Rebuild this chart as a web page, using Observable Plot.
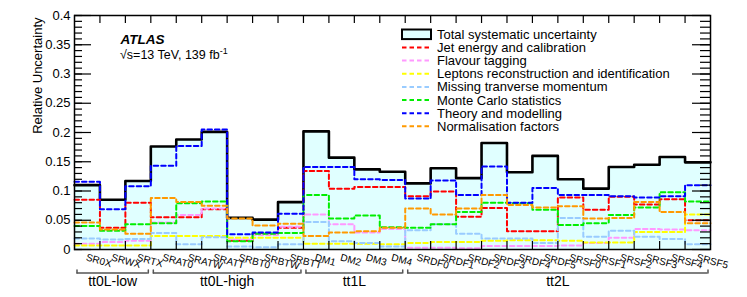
<!DOCTYPE html>
<html><head><meta charset="utf-8">
<script src="https://cdn.jsdelivr.net/npm/d3@7"></script>
<script src="https://cdn.jsdelivr.net/npm/@observablehq/plot@0.6"></script>
<style>
body{margin:0;background:#fff;}
#chart svg{font-family:"Liberation Sans",Arial,Helvetica,sans-serif;}
</style>
</head><body><div id="chart"></div>
<script>
// ---- data ----
const regions = ["SR0X","SRWX","SRTX","SRAT0","SRATW","SRATT","SRBT0","SRBTW","SRBTT","DM1","DM2","DM3","DM4","SRDF0","SRDF1","SRDF2","SRDF3","SRDF4","SRDF5","SRSF0","SRSF1","SRSF2","SRSF3","SRSF4","SRSF5"];
const groupNames = ["tt0L-low","tt0L-high","tt1L","tt2L"];
const groupSizes = [3,6,4,12];
const total    = [0.110,0.085,0.117,0.176,0.188,0.201,0.054,0.051,0.081,0.202,0.157,0.137,0.133,0.113,0.139,0.122,0.182,0.132,0.160,0.120,0.104,0.141,0.145,0.158,0.149];
const jetEnergy= [0.085,0.037,0.080,0.055,0.055,0.069,0.015,0.027,0.037,0.134,0.104,0.107,0.107,0.091,0.099,0.056,0.071,0.031,0.031,0.089,0.068,0.090,0.077,0.086,0.050];
const flavour  = [0.010,0.013,0.015,0.046,0.059,0.070,0.017,0.025,0.039,0.060,0.043,0.029,0.035,0.003,0.003,0.002,0.006,0.006,0.006,0.007,0.011,0.020,0.035,0.034,0.033];
const leptons  = [0.007,0.007,0.007,0.023,0.023,0.023,0.020,0.020,0.020,0.010,0.010,0.010,0.009,0.011,0.013,0.013,0.015,0.016,0.016,0.015,0.012,0.012,0.030,0.030,0.060];
const met      = [0.019,0.017,0.018,0.028,0.009,0.021,0.005,0.004,0.009,0.047,0.014,0.011,0.005,0.033,0.043,0.027,0.019,0.019,0.011,0.054,0.022,0.032,0.022,0.018,0.009];
const mcStat   = [0.040,0.032,0.043,0.045,0.079,0.082,0.014,0.027,0.028,0.093,0.053,0.058,0.038,0.037,0.043,0.064,0.080,0.079,0.068,0.042,0.045,0.059,0.072,0.098,0.082];
const theory   = [0.116,0.069,0.108,0.143,0.177,0.205,0.026,0.029,0.061,0.141,0.141,0.120,0.119,0.087,0.118,0.093,0.142,0.080,0.105,0.093,0.093,0.091,0.089,0.091,0.110];
const normFact = [0.046,0.034,0.027,0.088,0.081,0.075,0.053,0.041,0.044,0.023,0.029,0.031,0.037,0.070,0.060,0.070,0.093,0.076,0.072,0.074,0.053,0.054,0.081,0.064,0.045];
const seriesNames = ["Jet energy and calibration","Flavour tagging","Leptons reconstruction and identification","Missing tranverse momentum","Monte Carlo statistics","Theory and modelling","Normalisation factors"];
const seriesColors = ["#ff0000","#ff99ff","#ffff00","#99ccff","#00ee00","#0000ff","#ff9900"];
const yMajor = [0,0.05,0.1,0.15,0.2,0.25,0.3,0.35,0.4];
const yMinor = d3.range(0,41).map(i=>i/100);

// ---- layout ----
const W=747,H=297,mL=74,mR=37,mT=15,mB=48;
const pw=W-mL-mR, ph=H-mT-mB;
const FONT='"Liberation Sans",Arial,Helvetica,sans-serif';

const seriesVals=[jetEnergy,flavour,leptons,met,mcStat,theory,normFact];
function steps(vals){const p=vals.map((v,i)=>({x:i,y:v}));p.push({x:vals.length,y:vals[vals.length-1]});return p;}
const edges=d3.range(1,regions.length);
let acc=0;
const groups=groupNames.map((g,i)=>{const s=acc;acc+=groupSizes[i];return {name:g,start:s,end:acc,mid:(s+acc)/2};});
const tickShape={draw(ctx,l){ctx.moveTo(0,0);ctx.lineTo(0,-l);}};

const marks=[
  Plot.areaY(steps(total),{x:"x",y:"y",curve:"step-after",fill:"#e0ffff"}),
  Plot.line(steps(total),{x:"x",y:"y",curve:"step-after",stroke:"#000",strokeWidth:2.6}),
  ...seriesVals.map((v,k)=>Plot.line(steps(v),{x:"x",y:"y",curve:"step-after",stroke:seriesColors[k],strokeWidth:2,strokeDasharray:"4.5,3"})),
  Plot.tickY(yMinor,{y:d=>d,insetRight:pw-8,stroke:"#000",strokeWidth:1.2}),
  Plot.tickY(yMajor,{y:d=>d,insetRight:pw-17,stroke:"#000",strokeWidth:1.2}),
  Plot.tickY(yMinor,{y:d=>d,insetLeft:pw-10,stroke:"#000",strokeWidth:1.2}),
  Plot.tickY(yMajor,{y:d=>d,insetLeft:pw-18,stroke:"#000",strokeWidth:1.2}),
  Plot.tickX(edges,{x:d=>d,insetBottom:ph-8,stroke:"#000",strokeWidth:1.2}),
  Plot.tickX(edges,{x:d=>d,insetTop:ph-8,stroke:"#000",strokeWidth:1.2}),
  Plot.frame({stroke:"#000",strokeWidth:1.5}),
  Plot.axisY(yMajor,{tickSize:0,tickPadding:4,fontSize:13,tickFormat:d=>String(+d.toFixed(2)),label:null}),
  Plot.text(["Relative Uncertainty"],{frameAnchor:"top-left",dx:-42,dy:2,rotate:-90,textAnchor:"end",fontSize:13}),
  Plot.text(regions,{x:(d,i)=>i+0.5,frameAnchor:"bottom",dy:4,rotate:15,textAnchor:"start",lineAnchor:"top",fontSize:10}),
  Plot.ruleY(groups,{y:0,x1:"start",x2:"end",dy:23.5,insetLeft:2.5,insetRight:2.5,stroke:"#555",strokeWidth:1.5}),
  Plot.vector(groups,{x:"start",y:0,dx:2.5,dy:23.5,length:3,rotate:0,anchor:"start",shape:tickShape,stroke:"#555",strokeWidth:1.5}),
  Plot.vector(groups,{x:"end",y:0,dx:-2.5,dy:23.5,length:3,rotate:0,anchor:"start",shape:tickShape,stroke:"#555",strokeWidth:1.5}),
  Plot.text(groups,{x:"mid",y:0,text:"name",dy:32,fontSize:14}),
  Plot.text(["ATLAS"],{frameAnchor:"top-left",dx:46,dy:18.5,textAnchor:"start",fontWeight:"bold",fontStyle:"italic",fontSize:13.5})
];

const plot=Plot.plot({
  width:W,height:H,marginLeft:mL,marginRight:mR,marginTop:mT,marginBottom:mB,
  x:{domain:[0,regions.length],axis:null},
  y:{domain:[0,0.4],axis:null},
  style:{fontFamily:FONT,background:"#fff",color:"#000",overflow:"visible"},
  marks
});
document.getElementById("chart").appendChild(plot);

// ---- energy label & legend (inside frame) ----
const svg=d3.select(plot);
const lab=svg.append("text").attr("x",mL+46).attr("y",mT+44).attr("font-size",12.5).attr("font-family",FONT).attr("text-anchor","start").attr("fill","#000");
lab.append("tspan").text("√s=13 TeV, 139 fb");
lab.append("tspan").attr("dy",-5).attr("font-size",9).text("-1");

const lx0=mL+328, lx1=mL+357, ltx=mL+363, ly0=mT+19.3, lstep=13.15;
const lg=svg.append("g").attr("font-family",FONT).attr("font-size",13).attr("text-anchor","start");
lg.append("rect").attr("x",lx0).attr("y",ly0-4.8).attr("width",lx1-lx0).attr("height",9.6).attr("fill","#e0ffff").attr("stroke","#000").attr("stroke-width",2);
lg.append("text").attr("x",ltx).attr("y",ly0).attr("dy","0.35em").text("Total systematic uncertainty");
seriesNames.forEach((n,k)=>{
  const y=ly0+(k+1)*lstep;
  lg.append("line").attr("x1",lx0).attr("x2",lx1).attr("y1",y).attr("y2",y).attr("stroke",seriesColors[k]).attr("stroke-width",2).attr("stroke-dasharray","4.5,3");
  lg.append("text").attr("x",ltx).attr("y",y).attr("dy","0.35em").text(n);
});
</script>
</body></html>
